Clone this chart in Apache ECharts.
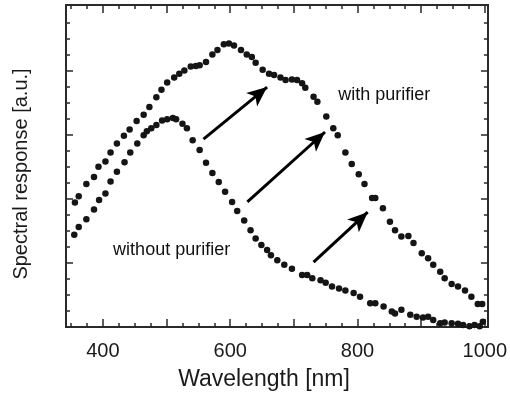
<!DOCTYPE html>
<html>
<head>
<meta charset="utf-8">
<script src="https://cdn.jsdelivr.net/npm/echarts@6/dist/echarts.min.js"></script>
<style>
html,body{margin:0;padding:0;background:#fff;}
#c{width:510px;height:397px;}
</style>
</head>
<body>
<div id="c"></div>
<script>
// ---- data (wavelength nm, response a.u.) ----
const withX = [356,362,374,386,393,404,412,422,433,442,453,464,473,484,492,501,512,520,528,538,546,552,562,572,580,590,598,606,617,626,634,640,651,661,669,679,687,697,705,713,718,731,737,751,762,769,781,791,802,811,823,828,840,851,859,869,880,888,901,911,919,930,937,948,958,969,979,989,996];
const withY = [1.94,2.04,2.23,2.34,2.50,2.58,2.72,2.86,2.98,3.08,3.21,3.31,3.43,3.58,3.70,3.81,3.89,3.95,4.00,4.06,4.07,4.08,4.13,4.25,4.32,4.41,4.42,4.39,4.32,4.25,4.21,4.12,4.01,3.95,3.93,3.89,3.85,3.86,3.85,3.80,3.73,3.59,3.51,3.28,3.10,2.99,2.72,2.54,2.38,2.23,2.01,2.01,1.85,1.64,1.51,1.41,1.42,1.31,1.15,1.07,0.97,0.86,0.76,0.67,0.63,0.57,0.47,0.36,0.36];
const withoutX = [355,362,374,386,394,404,412,422,434,443,454,464,469,476,484,493,501,510,515,525,532,541,552,562,572,582,592,603,611,622,632,640,649,658,664,674,685,697,713,721,729,742,750,760,771,781,794,804,820,828,841,854,859,869,883,893,903,911,919,930,937,948,958,966,976,984,992,997];
const withoutY = [1.44,1.56,1.68,1.83,1.98,2.08,2.27,2.42,2.57,2.72,2.86,2.99,3.05,3.10,3.15,3.22,3.24,3.26,3.24,3.17,3.10,2.91,2.76,2.56,2.40,2.26,2.11,1.95,1.81,1.66,1.51,1.38,1.28,1.20,1.12,1.04,0.97,0.91,0.81,0.81,0.76,0.73,0.69,0.63,0.60,0.57,0.53,0.47,0.37,0.37,0.32,0.24,0.21,0.27,0.19,0.16,0.15,0.16,0.11,0.06,0.07,0.06,0.05,0.03,0.01,0.03,0.01,0.08];
// arrows: [startX, startY, endX, endY]
const arrows = [[558,2.93,658,3.74],[627,1.95,749,3.04],[731,1.01,816,1.79]];
// annotations: [x, y, text]
const notes = [[842,3.61,'with purifier'],[508,1.20,'without purifier']];
// axis ticks
const xLabels = [400,600,800,1000];
const xMajor = [400,500,600,700,800,900,1000];
const xMinor = [350,375,425,450,475,525,550,575,625,650,675,725,750,775,825,850,875,925,950,975];
const yMajor = [1,2,3,4];
const yMinor = [0.25,0.5,0.75,1.25,1.5,1.75,2.25,2.5,2.75,3.25,3.5,3.75,4.25,4.5,4.75];

const FONT = '"Liberation Sans", Arial, Helvetica, sans-serif';
const XMIN = 342, XMAX = 1005, YMIN = 0, YMAX = 5.02;
const frame = {show:true, onZero:false, lineStyle:{color:'#2a2a2a', width:2}};

function xAx(pos, ticks, len, labels){
  return {type:'value', position:pos, min:XMIN, max:XMAX,
    axisLine: frame, splitLine:{show:false},
    axisTick:{show:true, inside:true, length:len, customValues:ticks, lineStyle:{color:'#2a2a2a', width:1.5}},
    axisLabel: labels ? {show:true, customValues:labels, margin:14, fontSize:20, color:'#1a1a1a', fontFamily:FONT, formatter:v=>String(v)} : {show:false}};
}
function yAx(pos, ticks, len){
  return {type:'value', position:pos, min:YMIN, max:YMAX,
    axisLine: frame, splitLine:{show:false},
    axisTick:{show:true, inside:true, length:len, customValues:ticks, lineStyle:{color:'#2a2a2a', width:1.5}},
    axisLabel:{show:false}};
}
function pairs(xs, ys){ return xs.map((x,i)=>[x, ys[i]]); }

const chart = echarts.init(document.getElementById('c'), null, {renderer:'canvas'});
chart.setOption({
  animation:false,
  grid:{left:66, right:20, top:5, bottom:70, containLabel:false},
  xAxis:[xAx('bottom', xMajor, 8, xLabels), xAx('bottom', xMinor, 4, null), xAx('top', xMajor, 8, null), xAx('top', xMinor, 4, null)],
  yAxis:[yAx('left', yMajor, 7), yAx('left', yMinor, 4), yAx('right', yMajor, 7), yAx('right', yMinor, 4)],
  series:[
    {type:'scatter', name:'with purifier', data:pairs(withX, withY), symbolSize:6.5, itemStyle:{color:'#151515', opacity:1}},
    {type:'scatter', name:'without purifier', data:pairs(withoutX, withoutY), symbolSize:6.5, itemStyle:{color:'#151515', opacity:1}},
    {type:'scatter', data:[], symbolSize:0,
      markLine:{silent:true, symbol:['none','arrow'], symbolSize:[13,20], label:{show:false},
        lineStyle:{color:'#000', width:3, type:'solid', opacity:1},
        data: arrows.map(a=>[{coord:[a[0],a[1]]},{coord:[a[2],a[3]]}])}},
    {type:'scatter', data:notes.map(n=>({value:[n[0],n[1]], name:n[2]})), symbolSize:0, itemStyle:{opacity:1},
      label:{show:true, position:'inside', formatter:p=>p.name, fontSize:18, color:'#111', fontFamily:FONT}}
  ],
  graphic:[
    {type:'text', x:264, y:368, style:{text:'Wavelength [nm]', font:'23px '+FONT, fill:'#1a1a1a', textAlign:'center'}},
    {type:'text', x:21, y:174, rotation:Math.PI/2, style:{text:'Spectral response [a.u.]', font:'20px '+FONT, fill:'#1a1a1a', textAlign:'center', textVerticalAlign:'middle'}}
  ]
});
</script>
</body>
</html>
